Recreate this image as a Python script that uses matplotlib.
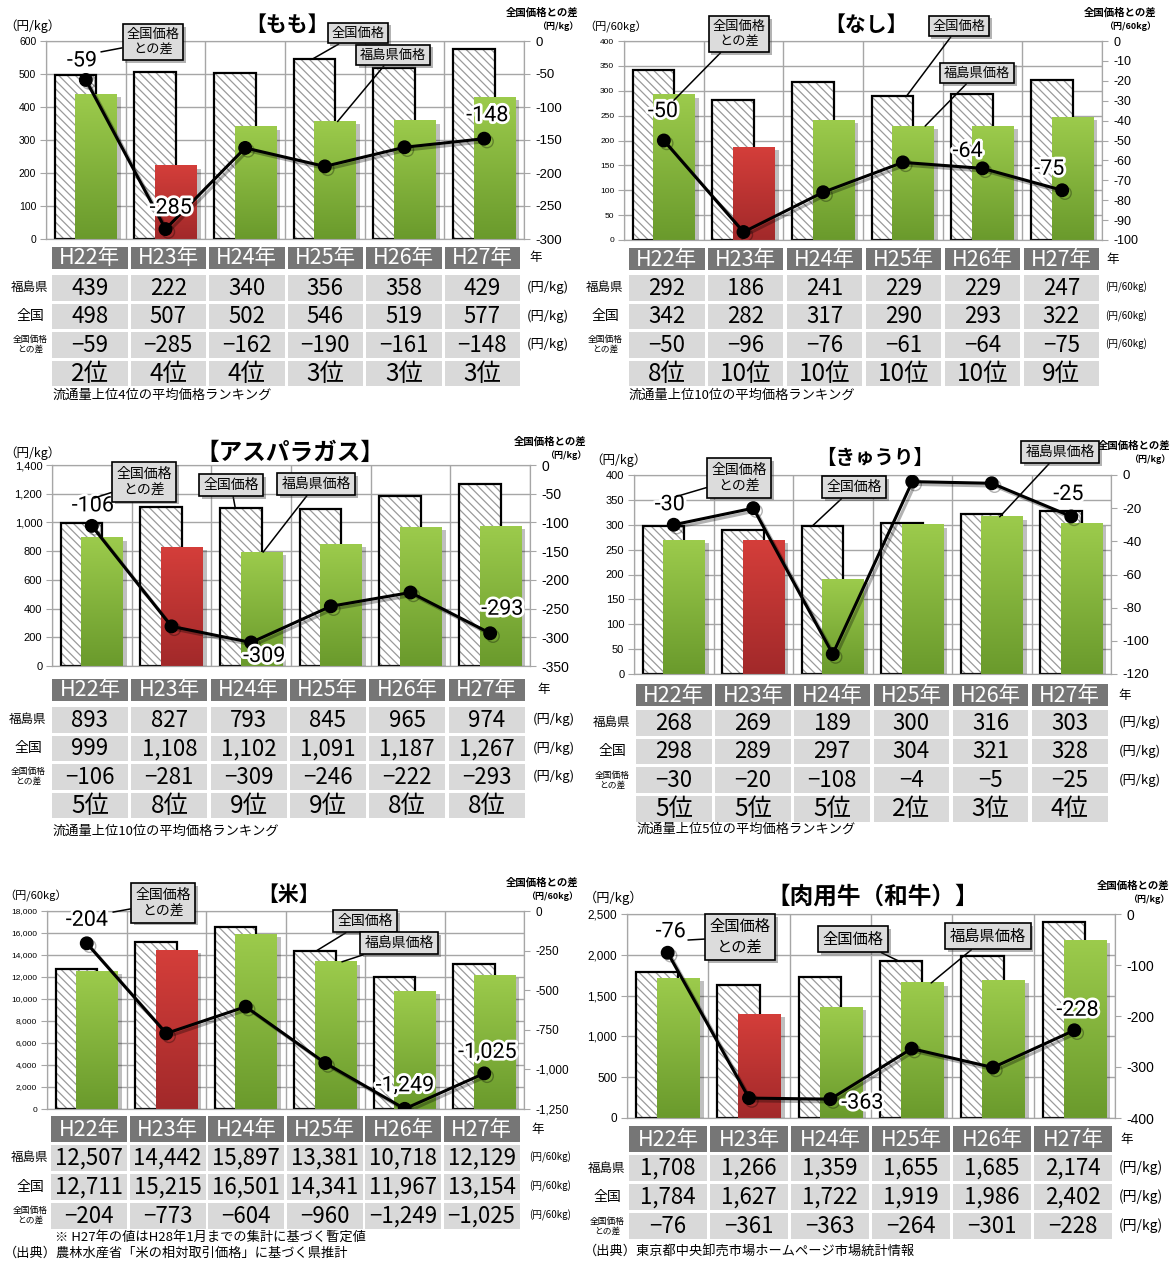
import numpy as np
import matplotlib
matplotlib.use('Agg')
import matplotlib.pyplot as plt
import matplotlib.patheffects as pe
from matplotlib.colors import LinearSegmentedColormap
from matplotlib.patches import Rectangle
from matplotlib.ticker import FuncFormatter, MultipleLocator

plt.rcParams['font.family'] = ['Noto Sans CJK JP', 'DejaVu Sans']
plt.rcParams['hatch.linewidth'] = 0.9

W, H = 1171, 1264
NUM = ['Liberation Sans Narrow', 'Noto Sans CJK JP']
LBL = ['Roboto', 'DejaVu Sans']

years = ['H22年', 'H23年', 'H24年', 'H25年', 'H26年', 'H27年']

# もも
momo_fukushima = [439, 222, 340, 356, 358, 429]
momo_national = [498, 507, 502, 546, 519, 577]
momo_diff = [-59, -285, -162, -190, -161, -148]
momo_rank = ['2位', '4位', '4位', '3位', '3位', '3位']

# なし
nashi_fukushima = [292, 186, 241, 229, 229, 247]
nashi_national = [342, 282, 317, 290, 293, 322]
nashi_diff = [-50, -96, -76, -61, -64, -75]
nashi_rank = ['8位', '10位', '10位', '10位', '10位', '9位']

# アスパラガス
asp_fukushima = [893, 827, 793, 845, 965, 974]
asp_national = [999, 1108, 1102, 1091, 1187, 1267]
asp_diff = [-106, -281, -309, -246, -222, -293]
asp_rank = ['5位', '8位', '9位', '9位', '8位', '8位']

# きゅうり
kyuri_fukushima = [268, 269, 189, 300, 316, 303]
kyuri_national = [298, 289, 297, 304, 321, 328]
kyuri_diff = [-30, -20, -108, -4, -5, -25]
kyuri_rank = ['5位', '5位', '5位', '2位', '3位', '4位']

# 米
rice_fukushima = [12507, 14442, 15897, 13381, 10718, 12129]
rice_national = [12711, 15215, 16501, 14341, 11967, 13154]
rice_diff = [-204, -773, -604, -960, -1249, -1025]

# 肉用牛（和牛）
beef_fukushima = [1708, 1266, 1359, 1655, 1685, 2174]
beef_national = [1784, 1627, 1722, 1919, 1986, 2402]
beef_diff = [-76, -361, -363, -264, -301, -228]

green_cmap = LinearSegmentedColormap.from_list('g', ['#6a9a2c', '#9ccb4c'])
red_cmap = LinearSegmentedColormap.from_list('r', ['#a2292a', '#d43e3a'])
grad = np.linspace(1, 0, 128).reshape(-1, 1)

fig = plt.figure(figsize=(W / 100, H / 100), dpi=100)
canvas = fig.add_axes([0, 0, 1, 1])
canvas.set_xlim(0, W)
canvas.set_ylim(H, 0)
canvas.axis('off')
canvas.set_zorder(-1)


def comma(v, _=None):
    return f'{int(round(v)):,}'


def draw_panel(p):
    x0, y0, x1, y1 = p['plot']
    ax = fig.add_axes([x0 / W, 1 - y1 / H, (x1 - x0) / W, (y1 - y0) / H])
    x = np.arange(len(years))
    nat = np.array(p['national'])
    fk = np.array(p['fukushima'])
    diff = np.array(p['diff'])

    ax.bar(x - 0.13, nat, width=0.52, color='white', edgecolor='#9a9a9a',
           hatch='\\\\\\\\', linewidth=0, zorder=2)
    ax.bar(x - 0.13, nat, width=0.52, fill=False, edgecolor='black',
           linewidth=1.6, zorder=2.5)
    for i, v in enumerate(fk):
        cmap = red_cmap if i == 1 else green_cmap
        base = ax.bar(i + 0.13, v, width=0.52, color=cmap(0.5), linewidth=0, zorder=2.8)
        base[0].set_path_effects([pe.withSimplePatchShadow(offset=(3, -2), shadow_rgbFace='k', alpha=0.25)])
        ax.imshow(grad, extent=(i + 0.13 - 0.26, i + 0.13 + 0.26, 0, v), cmap=cmap,
                  aspect='auto', zorder=3, interpolation='bilinear')

    ax.set_xlim(-0.5, 5.5)
    ax.set_ylim(0, p['ymax'])
    ax.yaxis.set_major_locator(MultipleLocator(p['ystep']))
    ax.yaxis.set_major_formatter(FuncFormatter(comma))
    ax.set_xticks([])
    ax.grid(axis='y', color='#a6a6a6', lw=1, zorder=0.5)
    ax.set_axisbelow(True)
    for b in np.arange(-0.5, 6):
        ax.axvline(b, color='#a6a6a6', lw=1, zorder=0.5)
    for s in ax.spines.values():
        s.set_color('#a6a6a6')
    ax.tick_params(axis='y', direction='out', length=4, color='#a6a6a6',
                   labelsize=p['lfs'], pad=3)
    for t in ax.get_yticklabels():
        t.set_family(['Liberation Sans', 'DejaVu Sans'])

    ax2 = ax.twinx()
    ax2.set_ylim(p['rmin'], 0)
    ax2.yaxis.set_major_locator(MultipleLocator(p['rstep']))
    ax2.yaxis.set_major_formatter(FuncFormatter(comma))
    for s in ax2.spines.values():
        s.set_color('#a6a6a6')
    ax2.tick_params(axis='y', direction='out', length=4, color='#a6a6a6',
                    labelsize=p['rfs'], pad=4)
    for t in ax2.get_yticklabels():
        t.set_family(['Liberation Sans', 'DejaVu Sans'])

    ax2.plot(x, diff, color='black', lw=2.2, marker='o', ms=9, zorder=5,
             path_effects=[pe.SimpleLineShadow(offset=(2, -2), shadow_color='k', alpha=0.3), pe.Normal()])

    for i, dx, dy in p['labels']:
        ax2.annotate(comma(diff[i]), xy=(i, diff[i]), xytext=(dx, dy), textcoords='offset pixels',
                     ha='center', va='center', fontsize=15.5, family=LBL, zorder=6,
                     path_effects=[pe.withStroke(linewidth=4, foreground='white')])

    for text, (tx, ty), (cx, cy) in p['callouts']:
        ann = ax2.annotate(text, xy=(tx, ty), xycoords=ax.transData, xytext=(cx, cy),
                           textcoords=canvas.transData, ha='center', va='center',
                           fontsize=p['cfs'], linespacing=1.25, zorder=10,
                           bbox=dict(boxstyle='square,pad=0.3', fc='#dcdcdc', ec='black', lw=1.2),
                           arrowprops=dict(arrowstyle='-', color='black', lw=1.1, shrinkA=0, shrinkB=0))
        ann.get_bbox_patch().set_path_effects([pe.withSimplePatchShadow(offset=(2, -2), alpha=0.4)])

    # titles and unit labels
    tx, ty = p['title_xy']
    canvas.text(tx, ty, p['title'], ha='center', va='center', fontsize=p['tfs'], fontweight='bold')
    ux, uy = p['unit_left_xy']
    canvas.text(ux, uy, p['unit_left'], ha='left', va='center', fontsize=p['ulfs'])
    dx_, dy_ = p['diff_title_xy']
    canvas.text(dx_, dy_, '全国価格との差', ha='right', va='center', fontsize=7.5, fontweight='bold')
    canvas.text(dx_, dy_ + 13, p['unit_top'], ha='right', va='center', fontsize=6.5, fontweight='bold')

    # table
    tb = p['table']
    tx0, pitch, w = tb['x0'], tb['pitch'], tb['w']
    for i, yr in enumerate(years):
        cx = tx0 + i * pitch
        canvas.add_patch(Rectangle((cx, tb['header']), w, tb['hh'], fc='#767676', ec='none'))
        canvas.text(cx + w / 2, tb['header'] + tb['hh'] / 2 + 0.5, yr, ha='center', va='center',
                    color='white', fontsize=15.5, family=NUM)
    canvas.text(tb['nen_x'], tb['header'] + tb['hh'] / 2, '年', ha='left', va='center', fontsize=9)

    rows = [('福島県', [comma(v) for v in fk], 9),
            ('全国', [comma(v) for v in nat], 10),
            ('全国価格\nとの差', [comma(v).replace('-', '−') for v in diff], 6.3)]
    if p.get('rank') is not None:
        rows.append((None, p['rank'], 0))
    for r, (lab, vals, lfs) in enumerate(rows):
        top = tb['row0'] + r * tb['step']
        for i, s in enumerate(vals):
            cx = tx0 + i * pitch
            canvas.add_patch(Rectangle((cx, top), w, tb['rh'], fc='#d9d9d9', ec='none'))
            fs = 17.5 if lab is None else 16
            canvas.text(cx + w / 2, top + tb['rh'] / 2 + 0.5, s, ha='center', va='center',
                        fontsize=fs, family=NUM)
        if lab is not None:
            canvas.text(tb['lab_x'], top + tb['rh'] / 2, lab, ha='center', va='center',
                        fontsize=lfs, linespacing=1.1)
            canvas.text(tb['unit_x'], top + tb['rh'] / 2, p['unit'], ha='left', va='center',
                        fontsize=tb['ufs'])

    for nx, ny, s in p['notes']:
        canvas.text(nx, ny, s, ha='left', va='center', fontsize=9.5)


panels = [
    dict(plot=(46, 41, 524, 239), national=momo_national, fukushima=momo_fukushima, diff=momo_diff,
         rank=momo_rank, ymax=600, ystep=100, rmin=-300, rstep=50, lfs=7.5, rfs=9.5, cfs=9.5,
         title='【もも】', title_xy=(287, 24), tfs=15,
         unit_left='（円/kg）', unit_left_xy=(4, 26), ulfs=9, unit='(円/kg)', unit_top='（円/kg）',
         diff_title_xy=(578, 13),
         table=dict(x0=52, pitch=78.5, w=75.5, header=247, hh=22, row0=275, step=28.5, rh=25.5,
                    nen_x=529, unit_x=527, lab_x=30, ufs=9.5),
         labels=[(0, -4, 19), (1, 5, 21), (5, 3, 23)],
         callouts=[('全国価格\nとの差', (0.19, 567), (153, 42)),
                   ('全国価格', (2.85, 546), (358, 33)),
                   ('福島県価格', (3.16, 356), (393, 55))],
         notes=[(53, 395, '流通量上位4位の平均価格ランキング')]),
    dict(plot=(624, 41, 1102, 240), national=nashi_national, fukushima=nashi_fukushima, diff=nashi_diff,
         rank=nashi_rank, ymax=400, ystep=50, rmin=-100, rstep=10, lfs=6, rfs=9, cfs=9.5,
         title='【なし】', title_xy=(866, 24), tfs=15,
         unit_left='（円/60kg）', unit_left_xy=(584, 27), ulfs=8, unit='(円/60kg)', unit_top='（円/60kg）',
         diff_title_xy=(1156, 13),
         table=dict(x0=629, pitch=78.9, w=75.5, header=248, hh=22, row0=275, step=28.5, rh=25.5,
                    nen_x=1106, unit_x=1105, lab_x=605, ufs=7),
         labels=[(0, -1, 29), (4, -15, 17), (5, -13, 21)],
         callouts=[('全国価格\nとの差', (0.127, 281), (739, 34)),
                   ('全国価格', (3.05, 290), (959, 26)),
                   ('福島県価格', (3.28, 229), (977, 73))],
         notes=[(629, 395, '流通量上位10位の平均価格ランキング')]),
    dict(plot=(52, 465, 530, 666), national=asp_national, fukushima=asp_fukushima, diff=asp_diff,
         rank=asp_rank, ymax=1400, ystep=200, rmin=-350, rstep=50, lfs=8, rfs=10, cfs=10,
         title='【アスパラガス】', title_xy=(290, 453), tfs=17,
         unit_left='（円/kg）', unit_left_xy=(4, 453), ulfs=9, unit='(円/kg)', unit_top='（円/kg）',
         diff_title_xy=(586, 442),
         table=dict(x0=52, pitch=79.3, w=76, header=679, hh=22, row0=707, step=28.5, rh=25.5,
                    nen_x=537, unit_x=533, lab_x=28, ufs=9.5),
         labels=[(0, 1, 20), (2, 13, -14), (5, 12, 24)],
         callouts=[('全国価格\nとの差', (0.03, 1170), (144, 482)),
                   ('全国価格', (1.8, 1102), (231, 485)),
                   ('福島県価格', (2.15, 793), (316, 484))],
         notes=[(53, 831, '流通量上位10位の平均価格ランキング')]),
    dict(plot=(634, 475, 1111, 674), national=kyuri_national, fukushima=kyuri_fukushima, diff=kyuri_diff,
         rank=kyuri_rank, ymax=400, ystep=50, rmin=-120, rstep=20, lfs=8, rfs=9.5, cfs=10,
         title='【きゅうり】', title_xy=(875, 458), tfs=14,
         unit_left='（円/kg）', unit_left_xy=(590, 460), ulfs=9, unit='(円/kg)', unit_top='（円/kg）',
         diff_title_xy=(1170, 446),
         table=dict(x0=636, pitch=79.2, w=75.5, header=684, hh=22, row0=710, step=28.7, rh=25.5,
                    nen_x=1118, unit_x=1119, lab_x=612, ufs=9.5),
         labels=[(0, -4, 20), (5, -3, 22)],
         callouts=[('全国価格\nとの差', (0.016, 356), (739, 478)),
                   ('全国価格', (1.74, 297), (854, 487)),
                   ('福島県価格', (4.1, 316), (1060, 452))],
         notes=[(637, 829, '流通量上位5位の平均価格ランキング')]),
    dict(plot=(47, 911, 524, 1109), national=rice_national, fukushima=rice_fukushima, diff=rice_diff,
         rank=None, ymax=18000, ystep=2000, rmin=-1250, rstep=250, lfs=6, rfs=8.5, cfs=10,
         title='【米】', title_xy=(289, 894), tfs=15,
         unit_left='（円/60kg）', unit_left_xy=(4, 896), ulfs=8, unit='(円/60kg)', unit_top='（円/60kg）',
         diff_title_xy=(578, 883),
         table=dict(x0=51, pitch=78.5, w=76, header=1116, hh=26, row0=1145, step=29, rh=25.5,
                    nen_x=531, unit_x=529, lab_x=30, ufs=7),
         labels=[(0, 0, 23), (4, 0, 23), (5, 3, 21)],
         callouts=[('全国価格\nとの差', (0.33, 17900), (163, 903)),
                   ('全国価格', (2.88, 14341), (365, 921)),
                   ('福島県価格', (3.21, 13381), (399, 943))],
         notes=[(55, 1237, '※ H27年の値はH28年1月までの集計に基づく暫定値'),
                (4, 1253, '（出典）農林水産省「米の相対取引価格」に基づく県推計')]),
    dict(plot=(627, 914, 1115, 1118), national=beef_national, fukushima=beef_fukushima, diff=beef_diff,
         rank=None, ymax=2500, ystep=500, rmin=-400, rstep=100, lfs=8.5, rfs=10, cfs=11,
         title='【肉用牛（和牛）】', title_xy=(873, 897), tfs=17,
         unit_left='（円/kg）', unit_left_xy=(584, 898), ulfs=9.5, unit='(円/kg)', unit_top='（円/kg）',
         diff_title_xy=(1169, 886),
         table=dict(x0=629, pitch=81, w=78, header=1126, hh=26, row0=1155, step=29, rh=26,
                    nen_x=1120, unit_x=1119, lab_x=607, ufs=10),
         labels=[(0, 3, 21), (2, 32, -4), (5, 3, 20)],
         callouts=[('全国価格\nとの差', (0.25, 2181), (740, 937)),
                   ('全国価格', (2.85, 1919), (853, 939)),
                   ('福島県価格', (3.24, 1655), (988, 936))],
         notes=[(584, 1252, '（出典）東京都中央卸売市場ホームページ市場統計情報')]),
]

for p in panels:
    draw_panel(p)

fig.savefig('out.png', dpi=100, facecolor='white')
